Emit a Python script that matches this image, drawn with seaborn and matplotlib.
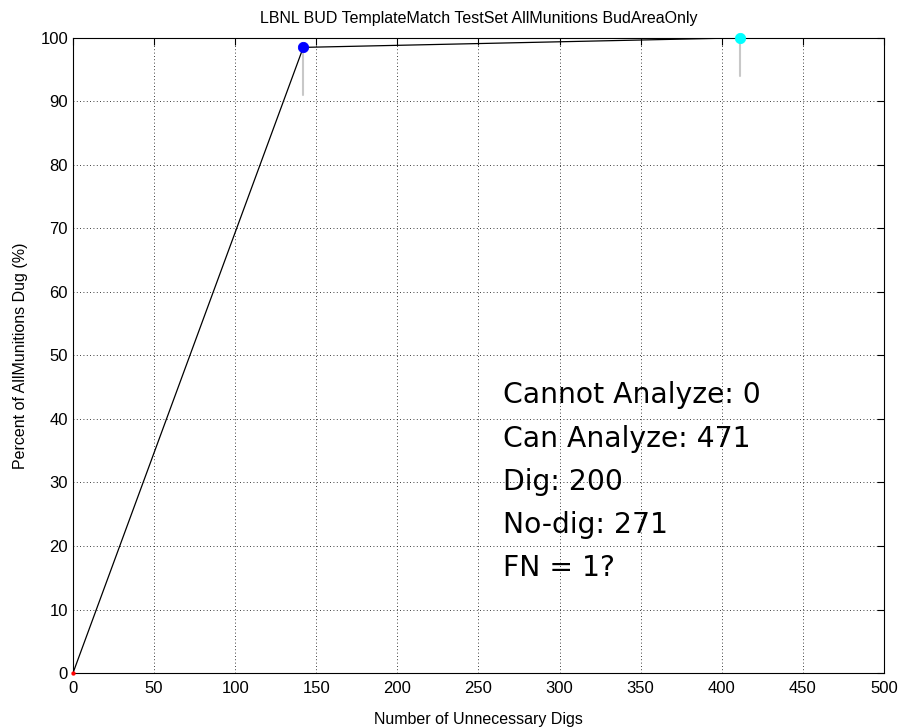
import pandas as pd
import matplotlib.pyplot as plt
import seaborn as sns

# data
unnecessary_digs = [0, 142, 411]
percent_dug = [0, 98.5, 100]
lower_bound = [0, 91, 94]
point_colors = ["red", "blue", "cyan"]
point_sizes = [8, 55, 55]

x_ticks = list(range(0, 501, 50))
y_ticks = list(range(0, 101, 10))

notes = ["Cannot Analyze: 0", "Can Analyze: 471", "Dig: 200",
         "No-dig: 271", "FN = 1?"]

sns.set_style("white")
plt.rcParams["font.family"] = ["Liberation Sans", "DejaVu Sans"]
plt.rcParams["text.color"] = "black"
plt.rcParams["axes.labelcolor"] = "black"
plt.rcParams["xtick.color"] = "black"
plt.rcParams["ytick.color"] = "black"

df = pd.DataFrame({"x": unnecessary_digs, "y": percent_dug, "lo": lower_bound})

fig = plt.figure(figsize=(9.01, 7.28), dpi=100)
ax = fig.add_axes([0.081, 0.0755, 0.9, 0.8725])

# vertical lines under the operating points
for i in range(1, len(df)):
    ax.plot([df.x[i], df.x[i]], [df.lo[i], df.y[i]], color="#c8c8c8", lw=1.5, zorder=1)

sns.lineplot(data=df, x="x", y="y", color="black", lw=0.9, ax=ax, zorder=2)
for i in range(len(df)):
    sns.scatterplot(x=[df.x[i]], y=[df.y[i]], color=point_colors[i], s=point_sizes[i],
                    edgecolor=point_colors[i], ax=ax, zorder=3, clip_on=False)

ax.set_xlim(0, 500)
ax.set_ylim(0, 100)
ax.set_xticks(x_ticks)
ax.set_yticks(y_ticks)
ax.grid(True, color="black", linestyle=(0, (1, 3)), lw=0.6)
ax.tick_params(direction="in", top=True, right=True, length=5, labelsize=12,
               color="black", labelcolor="black")
ax.tick_params(axis="x", pad=6)
for s in ax.spines.values():
    s.set_visible(True)
    s.set_color("black")
    s.set_linewidth(0.8)

ax.set_xlabel("Number of Unnecessary Digs", fontsize=11.5, labelpad=11, color="black")
ax.set_ylabel("Percent of AllMunitions Dug (%)", fontsize=11.5, labelpad=9, color="black")
ax.set_title("LBNL BUD TemplateMatch TestSet AllMunitions BudAreaOnly",
             fontsize=11.5, pad=11, color="black")

for i, t in enumerate(notes):
    ax.text(265, 43.7 - i * 6.8, t, fontsize=20.3, va="center", ha="left",
            color="black", family=["DejaVu Sans"])

fig.savefig("out.png", dpi=100)
